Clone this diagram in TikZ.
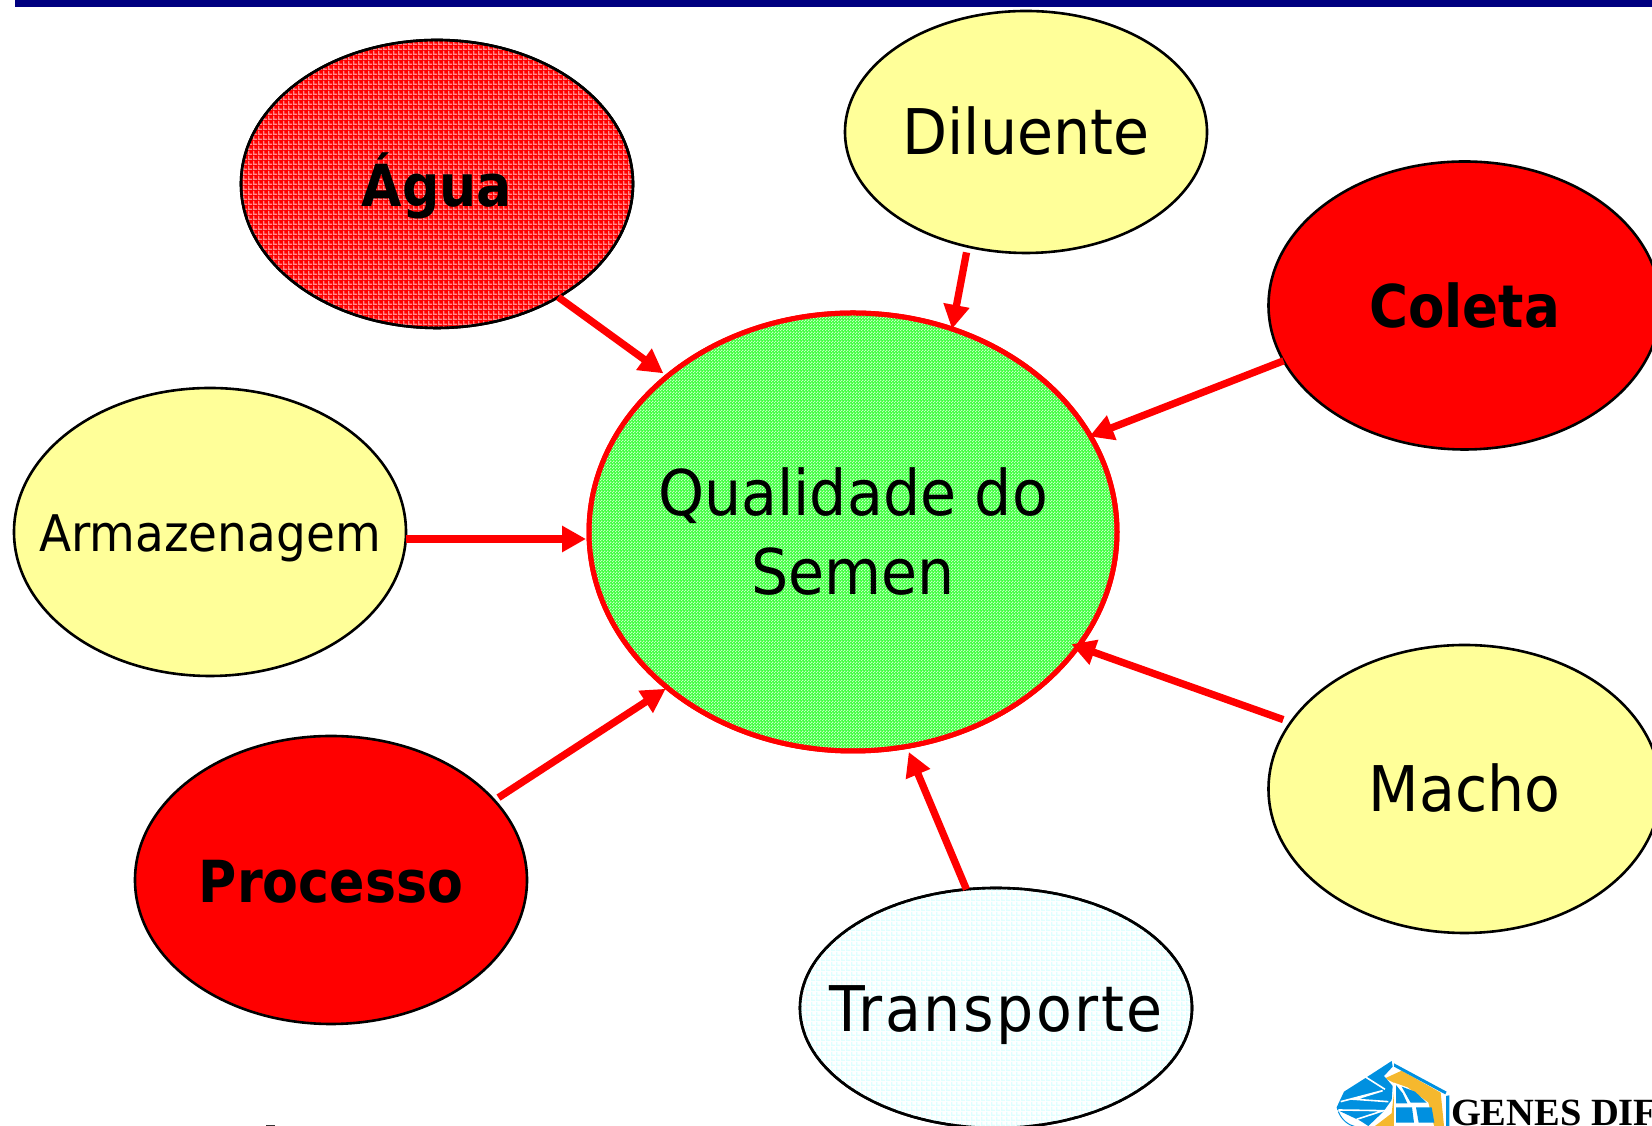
\documentclass[tikz,border=0pt]{standalone}
\usepackage{fontspec}
\setmainfont{DejaVu Sans}
\newfontfamily\regfont[FakeStretch=0.93]{DejaVu Sans}
\newfontfamily\widefont[FakeStretch=0.93,LetterSpace=4]{DejaVu Sans}
\newfontfamily\boldfont[FakeStretch=0.90]{DejaVu Sans Bold}
\newfontfamily\logofont{Liberation Serif}
\usetikzlibrary{shapes.geometric,arrows.meta,patterns}
\definecolor{barblue}{RGB}{0,0,128}
\definecolor{softyellow}{RGB}{255,255,153}
\definecolor{basegreen}{RGB}{60,255,60}
\definecolor{checkcyan}{RGB}{225,255,255}
\definecolor{logoblue}{RGB}{0,144,224}
\definecolor{logogold}{RGB}{245,184,46}
\pgfdeclarepatternformonly{finegrid}{\pgfqpoint{0pt}{0pt}}{\pgfqpoint{4.5pt}{4.5pt}}{\pgfqpoint{4.5pt}{4.5pt}}{
  \pgfpathrectangle{\pgfqpoint{0pt}{0pt}}{\pgfqpoint{4.5pt}{1.4pt}}
  \pgfpathrectangle{\pgfqpoint{0pt}{0pt}}{\pgfqpoint{1.4pt}{4.5pt}}
  \pgfusepath{fill}}
\pgfdeclarepatternformonly{finecheck}{\pgfqpoint{0pt}{0pt}}{\pgfqpoint{3pt}{3pt}}{\pgfqpoint{3pt}{3pt}}{
  \pgfpathrectangle{\pgfqpoint{0pt}{0pt}}{\pgfqpoint{1.5pt}{1.5pt}}
  \pgfpathrectangle{\pgfqpoint{1.5pt}{1.5pt}}{\pgfqpoint{1.5pt}{1.5pt}}
  \pgfusepath{fill}}
% label centred on its node, with the baseline a fixed distance under the centre
\newcommand{\nodetext}[3]{\raisebox{-#1}[0pt][0pt]{\makebox[0pt]{\fontsize{#2}{#2}\selectfont #3}}}
\tikzset{
  bubble/.style={ellipse,draw=black,line width=2.6pt,inner sep=0pt,outer sep=0pt,
    minimum width=392pt,minimum height=288pt,text=black},
  yellowbubble/.style={bubble,fill=softyellow},
  redbubble/.style={bubble,fill=red},
  feed/.style={draw=red,line width=7.3pt,shorten >=4pt,-{Triangle[length=24pt,width=25pt]}},
  logoblueshape/.style={fill=logoblue,draw=none},
}
\begin{document}
\begin{tikzpicture}[x=1pt,y=1pt]
\useasboundingbox (0,0) rectangle (1652,1126);
\fill[barblue] (15,1119) rectangle (1652,1126);
% nodes
\node[redbubble,postaction={pattern=finegrid,pattern color=white,opacity=.55},postaction={draw=black,line width=2.6pt}] (agua) at (437,942) {\nodetext{23pt}{58}{\boldfont Água}};
\node[yellowbubble,minimum width=362pt,minimum height=242pt] (diluente) at (1026,994) {\nodetext{23pt}{63}{\regfont Diluente}};
\node[redbubble] (coleta) at (1464.5,820.5) {\nodetext{22pt}{59}{\boldfont Coleta}};
\node[yellowbubble] (armazenagem) at (210,594) {\nodetext{20pt}{50.5}{\regfont Armazenagem}};
\node[ellipse,draw=red,line width=5pt,fill=basegreen,inner sep=0pt,outer sep=0pt,minimum width=528pt,minimum height=438pt,
  postaction={pattern=finecheck,pattern color=white,opacity=.7},postaction={draw=red,line width=5pt}] (qualidade) at (853,594)
  {\nodetext{-16pt}{63}{\regfont Qualidade do}\nodetext{63pt}{63}{\regfont Semen}};
\node[redbubble] (processo) at (331,246) {\nodetext{23pt}{58}{\boldfont Processo}};
\node[yellowbubble] (macho) at (1464.5,337) {\nodetext{23pt}{63}{\regfont Macho}};
\node[bubble,minimum height=240pt,fill=white,postaction={pattern=finegrid,pattern color=checkcyan},postaction={draw=black,line width=2.6pt}] (transporte) at (996,118) {\nodetext{24pt}{63}{\widefont Transporte}};
% connectors
\draw[feed,shorten >=5pt] (agua.-43.3) -- (qualidade.140.1);
\draw[feed,shorten <=6pt,shorten >=0pt] (diluente.-117.7) -- (qualidade.64.6);
\draw[feed,shorten >=-1pt] (coleta.-163) -- (qualidade.22.6);
\draw[feed,shorten >=3pt] ([yshift=-7pt]armazenagem.east) -- ([yshift=-7pt]qualidade.west);
\draw[feed,shorten <=8pt,shorten >=-7pt] (macho.159.7) -- (qualidade.-27.5);
\draw[feed,shorten >=6pt] (transporte.104) -- (qualidade.-76.3);
\draw[feed,shorten <=5pt,shorten >=2pt] (processo.26.8) -- (qualidade.220.5);
% clipped text at the lower edge
\fill[black!80] (266,0) rectangle (275,1.2);
% logo, in the coordinates of a 3x crop
\begin{scope}[shift={(1320,76)},x=0.3333pt,y=-0.3333pt]
  \fill[logogold] (195,85) -- (245,62) -- (362,128) -- (372,228) -- (165,228) -- (215,190) -- (225,100) -- cycle;
  \fill[white] (222,98) -- (262,112) -- (325,158) -- (342,228) -- (222,228) -- cycle;
  \fill[logoblueshape] (222,40) -- (380,125) -- (376,133) -- (222,50) -- cycle;
  \fill[logoblueshape] (378,138) -- (388,136) -- (388,228) -- (378,228) -- cycle;
  \fill[logoblueshape] (228,105) -- (248,130) -- (262,160) -- (228,160) -- cycle;
  \fill[logoblueshape] (245,110) -- (285,125) -- (320,158) -- (272,158) -- cycle;
  \fill[logoblueshape] (228,172) -- (276,172) -- (282,218) -- (228,218) -- cycle;
  \fill[logoblueshape] (288,172) -- (335,172) -- (343,218) -- (296,218) -- cycle;
  \fill[logoblueshape] (50,172) -- (72,125) -- (135,85) -- (215,33) -- (218,50) -- (192,78) -- (218,108) -- (215,150) -- (190,185) -- (145,228) -- (120,212) -- (52,180) -- cycle;
  \draw[white,line width=1.6pt] (135,80) -- (195,118);
  \draw[white,line width=1.6pt] (62,155) -- (188,122) -- (105,148) -- (205,155);
  \draw[white,line width=1.6pt] (55,180) -- (190,182) -- (110,208);
  \draw[logoblue,line width=1pt] (55,185) .. controls (65,210) and (85,225) .. (105,230);
\end{scope}
\node[anchor=base west,inner sep=0pt,outer sep=0pt,text=black] (logotext) at (1451,0) {\fontsize{38.5}{38.5}\selectfont\logofont\bfseries GENES DIF};
\end{tikzpicture}
\end{document}
